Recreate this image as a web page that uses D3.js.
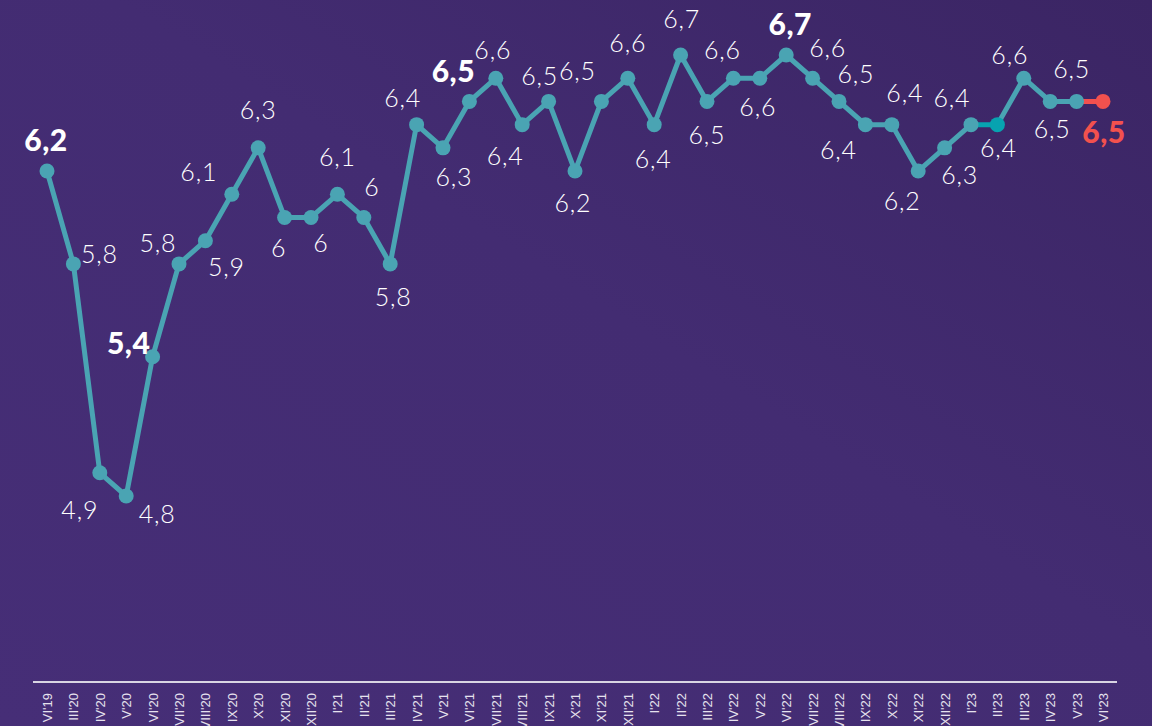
<!DOCTYPE html>
<html>
<head>
<meta charset="utf-8">
<script src="https://cdn.jsdelivr.net/npm/d3@7"></script>
<style>
  html, body { margin: 0; padding: 0; background: #432c72; }
  svg { display: block; }
</style>
</head>
<body>
<svg id="chart"></svg>
<script>
// month labels (roman month + year)
const months = ["VI'19", "III'20", "IV'20", "V'20", "VI'20", "VII'20", "VIII'20", "IX'20", "X'20", "XI'20", "XII'20",
  "I'21", "II'21", "III'21", "IV'21", "V'21", "VI'21", "VII'21", "VIII'21", "IX'21", "X'21", "XI'21", "XII'21",
  "I'22", "II'22", "III'22", "IV'22", "V'22", "VI'22", "VII'22", "VIII'22", "IX'22", "X'22", "XI'22", "XII'22",
  "I'23", "II'23", "III'23", "IV'23", "V'23", "VI'23"];

const values = [6.2, 5.8, 4.9, 4.8, 5.4, 5.8, 5.9, 6.1, 6.3, 6.0, 6.0,
  6.1, 6.0, 5.8, 6.4, 6.3, 6.5, 6.6, 6.4, 6.5, 6.2, 6.5, 6.6,
  6.4, 6.7, 6.5, 6.6, 6.6, 6.7, 6.6, 6.5, 6.4, 6.4, 6.2, 6.3,
  6.4, 6.4, 6.6, 6.5, 6.5, 6.5];

// which labels are bold, and which points get another colour
const boldMonths = ["VI'19", "VI'20", "VI'21", "VI'22", "VI'23"];
const prevMonth = "II'23";
const lastMonth = "VI'23";

// label placement around each point [dx, dy] (layout only)
const labelOffsets = [[-1,-31],[26,-10],[-20,37],[31,18],[-24,-14],[-21,-21],[21,26],[-33,-22],[0,-38],[-6,31],[10,26],
  [0,-37],[8,-30],[3,33],[-14,-27],[11,29],[-16,-30],[-3,-28],[-17,31],[-9,-25],[-2,32],[-24,-30],[0,-35],
  [-1,34],[1,-36],[0,34],[-11,-28],[-2,29],[4,-31],[15,-30],[17,-27],[-27,25],[13,-32],[-16,30],[15,27],
  [-19,-27],[1,23],[-14,-23],[2,28],[-5,-32],[1,31]];

const width = 1152, height = 726;
const teal = "#4aa4b3", tealDark = "#07a3b0", red = "#f2514e";

const svg = d3.select("#chart").attr("width", width).attr("height", height);

// background gradient
const defs = svg.append("defs");
const grad = defs.append("linearGradient").attr("id", "bg")
  .attr("x1", "0%").attr("y1", "100%").attr("x2", "100%").attr("y2", "0%");
grad.append("stop").attr("offset", "0%").attr("stop-color", "#462e77");
grad.append("stop").attr("offset", "55%").attr("stop-color", "#432c72");
grad.append("stop").attr("offset", "100%").attr("stop-color", "#3b2564");
svg.append("rect").attr("width", width).attr("height", height).attr("fill", "url(#bg)");

const x = d3.scalePoint().domain(months).range([47, 1103]);
const y = d3.scaleLinear().domain([4.8, 6.7]).range([496, 55]);

const data = months.map((m, i) => ({ m, v: values[i], i }));

const colorOf = d => d.m === lastMonth ? red : d.m === prevMonth ? tealDark : teal;

// axis line + rotated tick labels
const axis = d3.axisBottom(x).tickSize(0).tickPadding(0);
const gx = svg.append("g").attr("transform", "translate(0,682)").call(axis);
gx.select(".domain").attr("d", "M33,0H1117").attr("stroke", "#d9d5e3").attr("stroke-width", 2);
gx.selectAll(".tick text")
  .attr("transform", "rotate(-90)")
  .attr("x", -11).attr("y", 0).attr("dy", "0.35em")
  .attr("text-anchor", "end")
  .attr("fill", "#e6e2ee")
  .style("font-family", "'Liberation Sans', Arial, sans-serif")
  .style("font-size", "13px");

// line segments, each coloured by its end point
const line = d3.line().x(d => x(d.m)).y(d => y(d.v));
const segs = d3.pairs(data);
svg.append("g").selectAll("path")
  .data(segs)
  .join("path")
  .attr("d", d => line(d))
  .attr("fill", "none")
  .attr("stroke", d => colorOf(d[1]))
  .attr("stroke-width", 5)
  .attr("stroke-linecap", "round");

svg.append("g").selectAll("circle")
  .data(data)
  .join("circle")
  .attr("cx", d => x(d.m))
  .attr("cy", d => y(d.v))
  .attr("r", 7.5)
  .attr("fill", colorOf);

// value labels
const fmt = v => String(v).replace(".", ",");
svg.append("g").selectAll("text")
  .data(data)
  .join("text")
  .each(function(d) {
    const bold = boldMonths.includes(d.m);
    const fs = bold ? 30 : 25;
    const [dx, dy] = labelOffsets[d.i];
    d3.select(this)
      .attr("x", x(d.m) + dx)
      .attr("y", y(d.v) + dy + fs * 0.36)
      .attr("text-anchor", "middle")
      .attr("fill", d.m === lastMonth ? red : "#ffffff")
      .style("font-family", "Lato, 'Open Sans', sans-serif")
      .style("font-weight", bold ? 900 : 300)
      .style("font-size", fs + "px")
      .style("letter-spacing", bold ? "0.5px" : "0.8px")
      .text(fmt(d.v));
  });
</script>
</body>
</html>
